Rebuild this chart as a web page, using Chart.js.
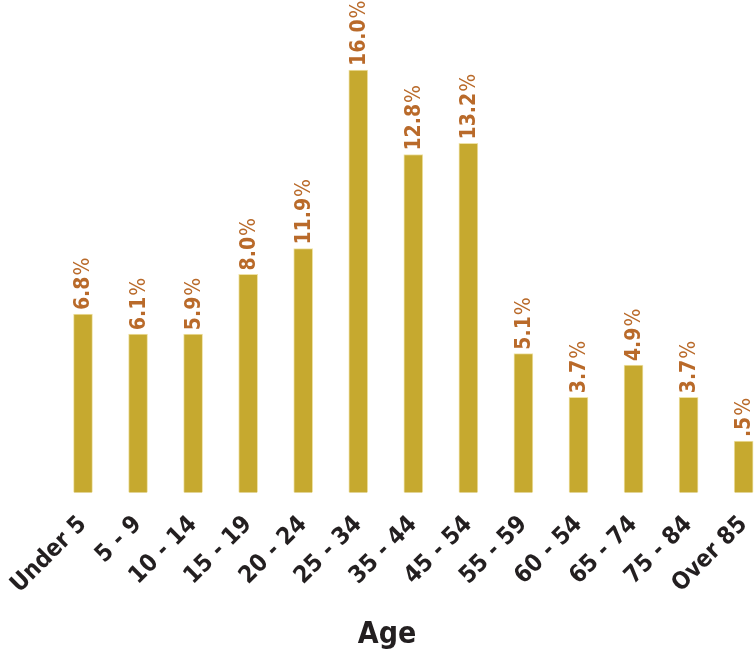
<!DOCTYPE html>
<html lang="en">
<head>
  <meta charset="UTF-8" />
  <title>Population by Age</title>
  <script src="https://cdn.jsdelivr.net/npm/chart.js"></script>
  <style>
    body {
      margin: 0;
      background: #ffffff;
      overflow: hidden;
    }
    .chart-container {
      position: relative;
      width: 774px;
      height: 653px;
    }
  </style>
</head>
<body>
  <div class="chart-container">
    <canvas id="ageChart"></canvas>
  </div>

  <script>
    // age groups on the x axis
    const ageGroups = ["Under 5", "5 - 9", "10 - 14", "15 - 19", "20 - 24", "25 - 34", "35 - 44",
                       "45 - 54", "55 - 59", "60 - 54", "65 - 74", "75 - 84", "Over 85"];
    // bar heights as drawn
    const barHeights = [6.76, 6.0, 6.0, 8.26, 9.24, 16.0, 12.8, 13.22, 5.26, 3.61, 4.83, 3.61, 1.95];
    // printed labels above the bars
    const valueLabels = ["6.8", "6.1", "5.9", "8.0", "11.9", "16.0", "12.8", "13.2", "5.1", "3.7", "4.9", "3.7", ".5"];

    const FONT = "'DejaVu Sans Condensed', 'DejaVu Sans', sans-serif";

    // draws the rotated percentage labels above each bar
    const valueLabelPlugin = {
      id: "valueLabels",
      afterDatasetsDraw(chart) {
        const ctx = chart.ctx;
        const meta = chart.getDatasetMeta(0);
        meta.data.forEach((bar, i) => {
          ctx.save();
          ctx.translate(bar.x, bar.y - 4);
          ctx.rotate(-Math.PI / 2);
          ctx.fillStyle = "#b96a2a";
          ctx.textBaseline = "middle";
          ctx.textAlign = "left";
          ctx.font = "bold 21px " + FONT;
          const num = valueLabels[i];
          ctx.fillText(num, 0, 1);
          const w = ctx.measureText(num).width;
          ctx.font = "21px " + FONT;
          ctx.fillText("%", w + 1, 1);
          ctx.restore();
        });
      }
    };

    new Chart(document.getElementById("ageChart"), {
      type: "bar",
      data: {
        labels: ageGroups,
        datasets: [{
          data: barHeights,
          backgroundColor: "#c6a92f",
          borderColor: "#efe2a6",
          borderWidth: 1,
          barThickness: 19,
          clip: false
        }]
      },
      options: {
        responsive: true,
        maintainAspectRatio: false,
        animation: false,
        layout: {
          padding: { top: 70, right: 0, left: 0, bottom: 0 }
        },
        plugins: {
          legend: { display: false },
          tooltip: { enabled: false },
          title: {
            display: true,
            text: "Age",
            position: "bottom",
            color: "#231f20",
            font: { family: FONT, size: 30, weight: "bold" },
            padding: { top: 8, bottom: 0 }
          }
        },
        scales: {
          x: {
            offset: false,
            grid: { display: false },
            border: { display: false },
            // leave a bit more room on the left than the first label needs
            afterFit: (scale) => { scale.paddingLeft = Math.max(scale.paddingLeft, 83); },
            ticks: {
              color: "#231f20",
              font: { family: FONT, size: 24, weight: "bold" },
              maxRotation: 45,
              minRotation: 45,
              padding: 10,
              autoSkip: false
            }
          },
          y: {
            display: false,
            min: 0,
            max: 16
          }
        }
      },
      plugins: [valueLabelPlugin]
    });
  </script>
</body>
</html>
